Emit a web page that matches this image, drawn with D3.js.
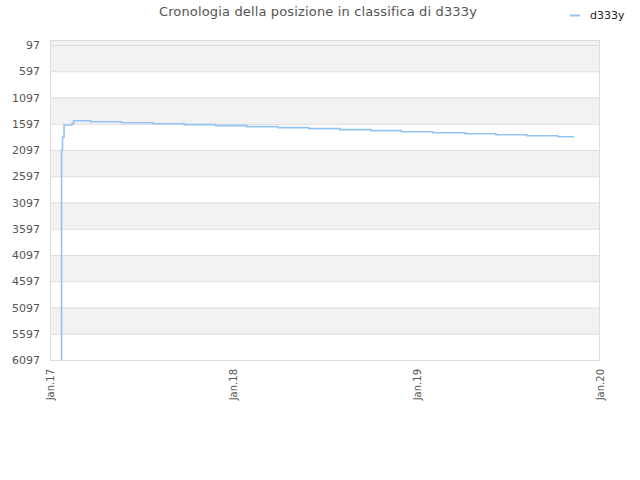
<!DOCTYPE html>
<html><head><meta charset="utf-8">
<script src="https://cdn.jsdelivr.net/npm/d3@7"></script>
<style>body{margin:0;background:#fff;}svg{display:block;font-family:"DejaVu Sans",sans-serif;}</style>
</head><body>
<svg id="c" width="640" height="480"></svg>
<script>
const title = "Cronologia della posizione in classifica di d333y";
const seriesName = "d333y";
const yTicks = [97,597,1097,1597,2097,2597,3097,3597,4097,4597,5097,5597,6097];
const xTickDates = ["2017-01-01","2018-01-01","2019-01-01","2020-01-01"];
const xTickLabels = ["Jan.17","Jan.18","Jan.19","Jan.20"];
const dates = ["2017-01-23","2017-01-24","2017-01-26","2017-01-29","2017-02-14","2017-02-17","2017-03-23","2017-05-24","2017-07-25","2017-09-25","2017-11-27","2018-01-28","2018-03-31","2018-05-31","2018-08-01","2018-10-02","2018-12-02","2019-02-02","2019-04-07","2019-06-08","2019-08-08","2019-10-09","2019-11-10"];
const ranks = [6097,2097,1849,1620,1590,1540,1557,1576,1595,1614,1633,1652,1671,1690,1709,1728,1748,1767,1786,1805,1824,1843,1843];

const svg = d3.select("#c");
const m = {l:50, r:600, t:40, b:360};
const parse = d3.utcParse("%Y-%m-%d");
const x = d3.scaleUtc().domain([parse(xTickDates[0]), parse(xTickDates[3])]).range([m.l, m.r]);
const y = d3.scaleLinear().domain([1, 6097]).range([m.t, m.b]);

// bands
svg.append("rect").attr("x", m.l).attr("width", m.r - m.l)
  .attr("y", y(1)).attr("height", y(yTicks[0]) - y(1)).attr("fill", "#f2f2f2");
for (let i = 0; i < yTicks.length - 1; i++) {
  if (i % 2 === 0) {
    svg.append("rect").attr("x", m.l).attr("width", m.r - m.l)
      .attr("y", y(yTicks[i])).attr("height", y(yTicks[i+1]) - y(yTicks[i]))
      .attr("fill", "#f2f2f2");
  }
}
// gridlines
svg.append("g").selectAll("line").data(yTicks).join("line")
  .attr("x1", m.l).attr("x2", m.r).attr("y1", d => y(d)+0.5).attr("y2", d => y(d)+0.5)
  .attr("stroke", "#dddddd").attr("stroke-width", 1);
// border
svg.append("rect").attr("x", m.l+0.5).attr("y", m.t+0.5).attr("width", m.r-m.l-1).attr("height", m.b-m.t)
  .attr("fill", "none").attr("stroke", "#dddddd");

// y axis
const yAxis = d3.axisLeft(y).tickValues(yTicks).tickSize(0).tickPadding(10).tickFormat(d3.format("d"));
const gy = svg.append("g").attr("transform", `translate(${m.l},0)`).call(yAxis);
gy.select(".domain").remove();
gy.selectAll("text").attr("fill", "#555").style("font-size", "11px").style("font-family", "DejaVu Sans, sans-serif");

// x axis
const xAxis = d3.axisBottom(x).tickValues(xTickDates.map(parse)).tickSize(0).tickFormat((d,i) => xTickLabels[i]);
const gx = svg.append("g").attr("transform", `translate(0,${m.b})`).call(xAxis);
gx.select(".domain").remove();
gx.selectAll("text").attr("fill", "#555").style("font-size", "10px").style("font-family", "DejaVu Sans, sans-serif")
  .attr("text-anchor", "end").attr("transform", "rotate(-90)").attr("x", -9).attr("y", 0).attr("dy", "0.35em");

// line
const data = dates.map((d,i) => ({d: parse(d), r: ranks[i]}));
svg.append("path").datum(data)
  .attr("fill", "none").attr("stroke", "#93c3f3").attr("stroke-width", 1.6)
  .attr("d", d3.line().x(d => x(d.d)).y(d => y(d.r)).curve(d3.curveStepAfter));

// title
svg.append("text").attr("x", 318).attr("y", 16).attr("text-anchor", "middle")
  .attr("fill", "#555").style("font-size", "13px").style("letter-spacing", "0.15px").text(title);
// legend
svg.append("line").attr("x1", 570).attr("x2", 580).attr("y1", 15.5).attr("y2", 15.5)
  .attr("stroke", "#93c3f3").attr("stroke-width", 2);
svg.append("text").attr("x", 590).attr("y", 19).attr("fill", "#222").style("font-size", "11px").text(seriesName);
</script>
</body></html>
